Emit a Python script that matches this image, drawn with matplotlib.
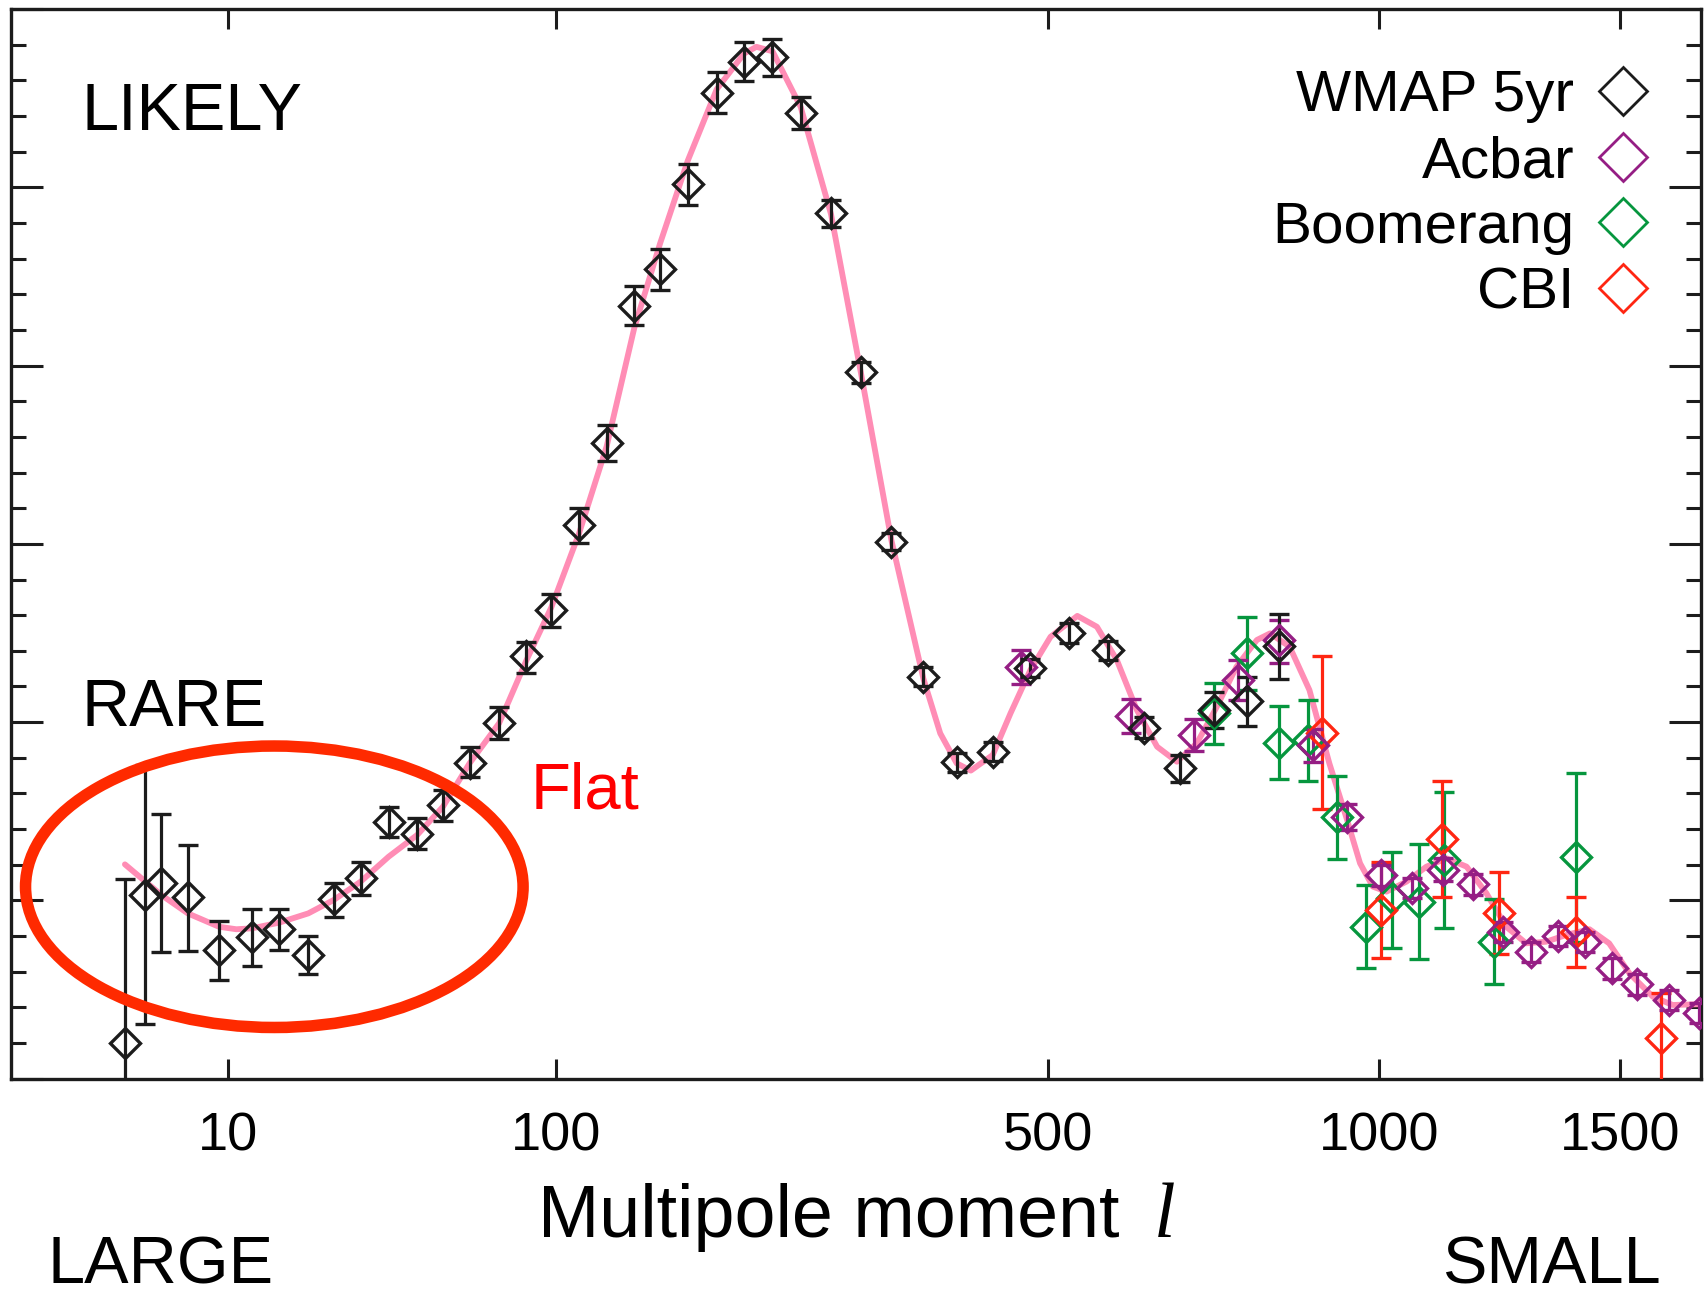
import numpy as np
import matplotlib
matplotlib.use("Agg")
import matplotlib.pyplot as plt
from matplotlib.lines import Line2D
from matplotlib.patches import Ellipse
from matplotlib.ticker import FixedLocator, MultipleLocator, NullLocator

plt.rcParams['font.family'] = ['Liberation Sans', 'DejaVu Sans']

# band powers l(l+1)C_l/2pi in uK^2: centre, lower and upper end of each error bar
wmap_l = [2, 3, 4, 6, 9, 13, 17, 22, 27, 33, 40, 48, 56, 65, 76,
          87, 98, 111, 125, 140, 155, 172, 191, 210, 231, 253, 278, 304, 332, 363,
          397, 436, 479, 525, 575, 624, 675, 725, 775, 826]
wmap_v = [200, 1030, 1095, 1020, 722, 793, 837, 694, 1005, 1128, 1441, 1374, 1533, 1771, 1993,
          2369, 2627, 3104, 3567, 4333, 4541, 5020, 5531, 5706, 5731, 5420, 4854, 3963, 3013, 2255,
          1775, 1834, 2302, 2502, 2403, 1969, 1744, 2068, 2119, 2427]
wmap_lo = [-400, 304, 709, 718, 556, 630, 722, 588, 908, 1031, 1356, 1287, 1443, 1690, 1908,
           2275, 2533, 3003, 3464, 4226, 4426, 4904, 5418, 5596, 5624, 5330, 4779, 3903, 2966, 2200,
           1722, 1782, 2252, 2446, 2349, 1909, 1666, 1969, 1978, 2240]
wmap_hi = [1122, 1762, 1486, 1311, 886, 953, 953, 800, 1100, 1216, 1523, 1460, 1620, 1861, 2083,
           2452, 2720, 3204, 3667, 4446, 4657, 5130, 5648, 5814, 5831, 5508, 4927, 4023, 3063, 2310,
           1829, 1887, 2353, 2555, 2455, 2027, 1816, 2171, 2255, 2607]

acbar_l = [468, 606, 695, 762, 826, 883, 942, 1003, 1060, 1121, 1179, 1241, 1300, 1359,
           1420, 1480, 1539, 1615, 1690]
acbar_v = [2311, 2034, 1928, 2236, 2461, 1872, 1466, 1142, 1068, 1170, 1092, 824, 712, 800,
           768, 619, 529, 441, 366]
acbar_lo = [2212, 1941, 1838, 2124, 2334, 1778, 1395, 1081, 1012, 1109, 1030, 768, 656, 745,
            713, 560, 470, 385, 310]
acbar_hi = [2407, 2128, 2018, 2349, 2573, 1960, 1539, 1198, 1127, 1236, 1148, 880, 768, 855,
            823, 678, 588, 497, 422]

boom_l = [725, 775, 826, 875, 925, 975, 1024, 1074, 1123, 1222, 1399]
boom_v = [2050, 2386, 1885, 1900, 1466, 852, 1012, 989, 1227, 768, 1241]
boom_lo = [1876, 2180, 1679, 1670, 1230, 619, 731, 669, 843, 531, 769]
boom_hi = [2221, 2588, 2091, 2124, 1700, 1086, 1273, 1316, 1608, 1006, 1713]

cbi_l = [898, 1003, 1119, 1234, 1399, 1597]
cbi_v = [1941, 946, 1344, 927, 824, 226]
cbi_lo = [1511, 675, 1017, 697, 624, -400]
cbi_hi = [2371, 1217, 1670, 1157, 1021, 479]

# best-fit model spectrum
model_l = [2, 4, 6, 9, 11, 13, 17, 22, 27, 33, 40, 48, 56, 65, 76, 80,
           87, 98, 111, 125, 140, 155, 172, 191, 210, 219, 231, 253, 278, 304, 332, 363,
           380, 397, 412, 436, 456, 479, 503, 536, 561, 587, 614, 642, 670, 699, 729,
           759, 791, 812, 844, 877, 911, 942, 965, 988, 1013, 1050, 1088, 1127, 1167,
           1207, 1248, 1290, 1333, 1377, 1429, 1474, 1521, 1577, 1625, 1700]
model_v = [1202, 1030, 927, 852, 838, 843, 875, 927, 1002, 1105, 1245, 1367, 1526, 1769, 1994, 2124,
           2345, 2645, 3058, 3547, 4211, 4687, 5150, 5551, 5751, 5789, 5764, 5451, 4849, 3960, 3021, 2244,
           1937, 1769, 1728, 1816, 2050, 2293, 2479, 2596, 2535, 2349, 2068, 1862, 1778, 1881, 2087,
           2311, 2461, 2498, 2423, 2180, 1769, 1451, 1208, 1077, 1049, 1105, 1189, 1236, 1189,
           1040, 852, 759, 768, 806, 838, 759, 591, 459, 413, 418]

tick_l = [10, 100, 500, 1000, 1500]
tick_text = ['10', '100', '500', '1000', '1500']

series = [
    ('Boomerang', boom_l, boom_v, boom_lo, boom_hi, '#06963e'),
    ('CBI', cbi_l, cbi_v, cbi_lo, cbi_hi, '#ff2612'),
    ('Acbar', acbar_l, acbar_v, acbar_lo, acbar_hi, '#951e84'),
    ('WMAP 5yr', wmap_l, wmap_v, wmap_lo, wmap_hi, '#1c1c1c'),
]
legend_order = ['WMAP 5yr', 'Acbar', 'Boomerang', 'CBI']


def fwd(x):
    x = np.asarray(x, dtype=float)
    return np.sign(x) * np.abs(x) ** 0.4


def inv(x):
    x = np.asarray(x, dtype=float)
    return np.sign(x) * np.abs(x) ** 2.5


W, H = 1708, 1290
fig = plt.figure(figsize=(W / 100, H / 100), dpi=100)
ax = fig.add_axes([11 / W, 1 - 1078.6 / H, 1690 / W, 1069.4 / H])
ax.set_xscale('function', functions=(fwd, inv))

ax.plot(model_l, model_v, color='#ff8db5', lw=4.2, zorder=2,
        solid_capstyle='round', solid_joinstyle='round')

colors = {}
for name, l, v, lo, hi, c in series:
    v = np.array(v)
    yerr = [v - np.array(lo), np.array(hi) - v]
    ax.errorbar(l, v, yerr=yerr, fmt='D', ms=15.5, mfc='none', mec=c, mew=2.4,
                ecolor=c, elinewidth=2.3, capsize=7.5, capthick=2.3, zorder=3)
    colors[name] = c

ax.set_xlim(0, 1695)
ax.set_ylim(0, 6000)

ax.xaxis.set_major_locator(FixedLocator(tick_l))
ax.xaxis.set_minor_locator(NullLocator())
ax.set_xticklabels(tick_text)
ax.yaxis.set_major_locator(MultipleLocator(1000))
ax.yaxis.set_minor_locator(MultipleLocator(200))

ax.tick_params(which='both', direction='in', top=True, right=True,
               labelleft=False, color='#1c1c1c', width=2.2)
ax.tick_params(axis='x', which='major', length=14.4, pad=24, labelsize=39)
ax.tick_params(axis='y', which='major', length=23)
ax.tick_params(axis='y', which='minor', length=10.8)
for s in ax.spines.values():
    s.set_linewidth(2.4)
    s.set_color('#1c1c1c')

handles = [Line2D([], [], ls='none', marker='D', ms=24, mfc='none',
                  mec=colors[n], mew=2.0) for n in legend_order]
ax.legend(handles, legend_order, loc='upper right', bbox_to_anchor=(0.971, 0.9437),
          frameon=False, markerfirst=False, fontsize=42, handlelength=1.0,
          handletextpad=0.33, labelspacing=0.2, borderpad=0, borderaxespad=0,
          numpoints=1)

ax.add_patch(Ellipse((0.1558, 0.1794), 0.2944, 0.2632, transform=ax.transAxes,
                     fill=False, ec='#ff2a00', lw=8.3, zorder=5))


def ftext(x, y, s, **kw):
    fig.text(x / W, 1 - y / H, s, va='baseline', **kw)


ftext(81.7, 130.4, 'LIKELY', fontsize=48)
ftext(81.7, 726, 'RARE', fontsize=48)
ftext(530.7, 808.3, 'Flat', fontsize=47, color='#ff0000')
ftext(48, 1283, 'LARGE', fontsize=48)
ftext(1661, 1283, 'SMALL', fontsize=48, ha='right')
ftext(538, 1237, 'Multipole moment', fontsize=53)
ftext(1154, 1237, 'l', fontsize=56, family=['Liberation Serif', 'DejaVu Serif'], style='italic')

fig.savefig('out.png', dpi=100)
